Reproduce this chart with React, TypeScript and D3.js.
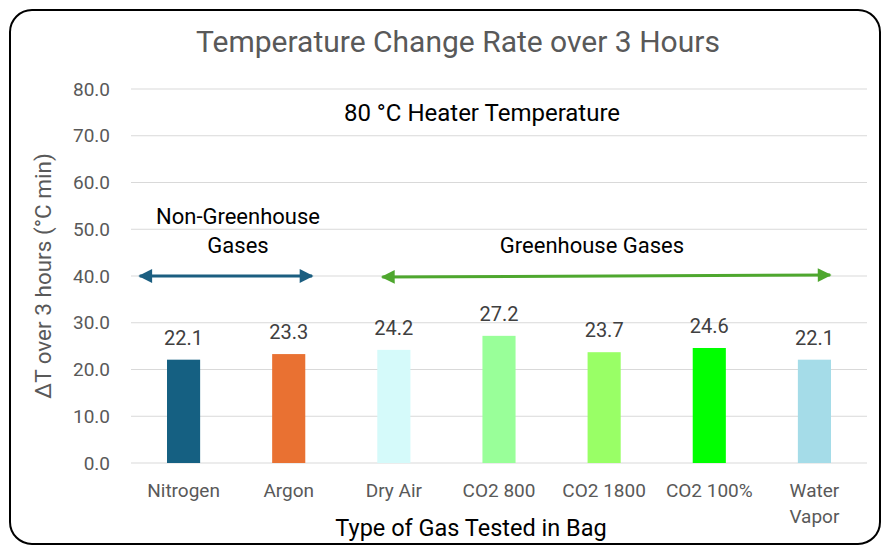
import React from "react";
import { scaleBand, scaleLinear, range } from "d3";

const categories = ["Nitrogen", "Argon", "Dry Air", "CO2 800", "CO2 1800", "CO2 100%", "Water Vapor"];
const values = [22.1, 23.3, 24.2, 27.2, 23.7, 24.6, 22.1];
const colors = ["#156082", "#E97132", "#D5FAFA", "#99FF99", "#99FF66", "#00FF00", "#A5DCE8"];
const yTicks = range(0, 81, 10);

const W = 884;
const H = 547;
const margin = { left: 131, right: 17, top: 89, bottom: 84 };

export default function App() {
  const x = scaleBand<string>()
    .domain(categories)
    .range([margin.left, W - margin.right])
    .paddingInner(0.685)
    .paddingOuter(0.3425);

  const y = scaleLinear().domain([0, 80]).range([H - margin.bottom, margin.top]);

  const font = "Roboto, 'Open Sans', sans-serif";
  const step = x.step();
  const mid = (c: string) => x(c)! + x.bandwidth() / 2;
  const blueStart = x("Nitrogen")! - step * 0.26;
  const blueEnd = x("Argon")! + x.bandwidth() + step * 0.065;
  const greenStart = mid("Dry Air") - step * 0.11;
  const greenEnd = mid("Water Vapor") + step * 0.15;

  return (
    <svg
      width={W}
      height={H}
      style={{ position: "absolute", left: 0, top: 0, background: "#fff" }}
      fontFamily={font}
    >
      <defs>
        <marker id="blueHead" viewBox="0 0 10 10" refX="9" refY="5" markerWidth="5" markerHeight="4.6" orient="auto-start-reverse">
          <path d="M0,0 L10,5 L0,10 z" fill="#1B5E80" />
        </marker>
        <marker id="greenHead" viewBox="0 0 10 10" refX="9" refY="5" markerWidth="5" markerHeight="4.6" orient="auto-start-reverse">
          <path d="M0,0 L10,5 L0,10 z" fill="#4EA72E" />
        </marker>
      </defs>

      <rect x={10} y={10} width={870} height={534} rx={22} fill="#fff" stroke="#000" strokeWidth={2} />

      <text x={458} y={52} textAnchor="middle" fontSize={30} fill="#595959">
        Temperature Change Rate over 3 Hours
      </text>

      {yTicks.map((t) => (
        <g key={t}>
          <line x1={margin.left} x2={W - margin.right} y1={y(t)} y2={y(t)} stroke="#D9D9D9" strokeWidth={1} />
          <text x={110} y={y(t)} dy="0.35em" textAnchor="end" fontSize={19} fill="#595959">
            {t.toFixed(1)}
          </text>
        </g>
      ))}

      {categories.map((c, i) => (
        <g key={c}>
          <rect x={x(c)} y={y(values[i])} width={x.bandwidth()} height={y(0) - y(values[i])} fill={colors[i]} />
          <text x={mid(c)} y={y(values[i]) - 22} dy="0.35em" textAnchor="middle" fontSize={20} fill="#404040">
            {values[i].toFixed(1)}
          </text>
          {c === "Water Vapor" ? (
            <text y={490} dy="0.35em" textAnchor="middle" fontSize={19} fill="#595959">
              <tspan x={mid(c)}>Water</tspan>
              <tspan x={mid(c)} dy={26}>Vapor</tspan>
            </text>
          ) : (
            <text x={mid(c)} y={490} dy="0.35em" textAnchor="middle" fontSize={19} fill="#595959">
              {c}
            </text>
          )}
        </g>
      ))}

      <text x={471} y={528} dy="0.35em" textAnchor="middle" fontSize={23.5} fill="#000">
        Type of Gas Tested in Bag
      </text>

      <text
        transform={`translate(43,${276}) rotate(-90)`}
        dy="0.35em"
        textAnchor="middle"
        fontSize={22.5}
        fill="#595959"
      >
        ΔT over 3 hours (°C min)
      </text>

      <text x={482} y={113} dy="0.35em" textAnchor="middle" fontSize={24} fill="#000">
        80 °C Heater Temperature
      </text>

      <text x={238} y={216} dy="0.35em" textAnchor="middle" fontSize={22} fill="#000">
        Non-Greenhouse
      </text>
      <text x={238} y={245} dy="0.35em" textAnchor="middle" fontSize={22} fill="#000">
        Gases
      </text>
      <text x={592} y={245} dy="0.35em" textAnchor="middle" fontSize={22} fill="#000">
        Greenhouse Gases
      </text>

      <line
        x1={blueStart}
        x2={blueEnd}
        y1={y(40)}
        y2={y(40)}
        stroke="#1B5E80"
        strokeWidth={3}
        markerStart="url(#blueHead)"
        markerEnd="url(#blueHead)"
      />
      <line
        x1={greenStart}
        x2={greenEnd}
        y1={y(40) + 1}
        y2={y(40) - 1}
        stroke="#4EA72E"
        strokeWidth={3}
        markerStart="url(#greenHead)"
        markerEnd="url(#greenHead)"
      />
    </svg>
  );
}
